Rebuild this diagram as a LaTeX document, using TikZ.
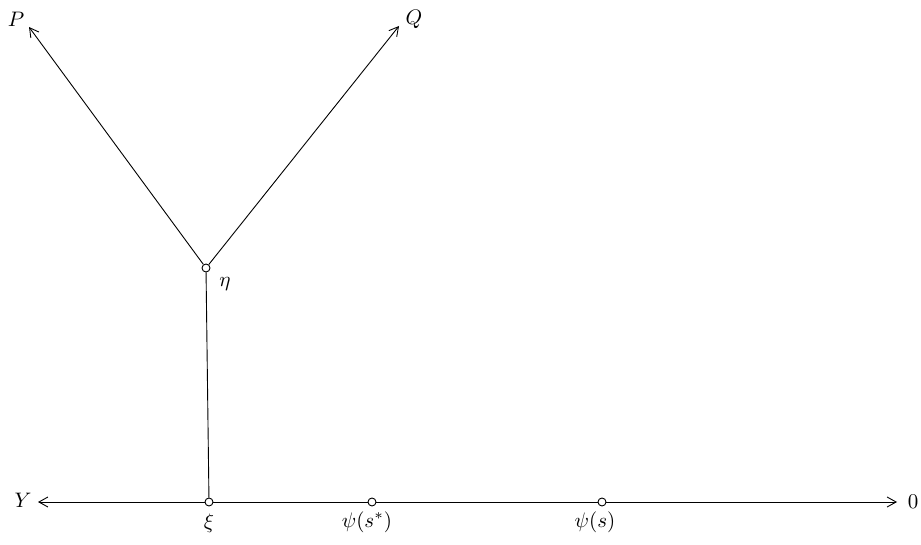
\documentclass[tikz,border=0pt]{standalone}
\usepackage{graphicx}
\usetikzlibrary{arrows.meta}
\begin{document}
\begin{tikzpicture}[x=1pt,y=-1pt,
  line width=0.9pt,
  pt/.style={circle,draw,fill=white,inner sep=0pt,minimum size=8pt,line width=0.9pt},
  lab/.style={inner sep=0pt},
  arr/.style={-{Straight Barb[length=9pt,width=10pt,line width=0.9pt]}}]
\useasboundingbox (0,0) rectangle (921,545);
\coordinate (Ptip) at (29,27);
\coordinate (Qtip) at (399,26);
\coordinate (Ytip) at (38,502);
\coordinate (Otip) at (897,502);
\node[pt] (eta) at (206,268) {};
\node[pt] (xi) at (209,502) {};
\node[pt] (pss) at (372,502) {};
\node[pt] (ps) at (602,502) {};
\draw[arr] (eta) -- (Ptip);
\draw[arr] (eta) -- (Qtip);
\draw (eta) -- (xi);
\draw[arr] (xi) -- (Ytip);
\draw (xi) -- (pss) -- (ps);
\draw[arr] (ps) -- (Otip);
\node[lab] (lP) at (16,19) {\scalebox{2.1}{$P$}};
\node[lab] (lQ) at (414,19) {\scalebox{2.1}{$Q$}};
\node[lab] (leta) at (225,284) {\scalebox{2.1}{$\eta$}};
\node[lab] (lY) at (23,500) {\scalebox{2.1}{$Y$}};
\node[lab] (lO) at (913,502) {\scalebox{2.1}{$0$}};
\node[lab] (lxi) at (209,523) {\scalebox{2.1}{$\xi$}};
\node[lab] (lpss) at (367,522) {\scalebox{2.1}{$\psi(s^{*})$}};
\node[lab] (lps) at (595,522) {\scalebox{2.1}{$\psi(s)$}};
\end{tikzpicture}
\end{document}
